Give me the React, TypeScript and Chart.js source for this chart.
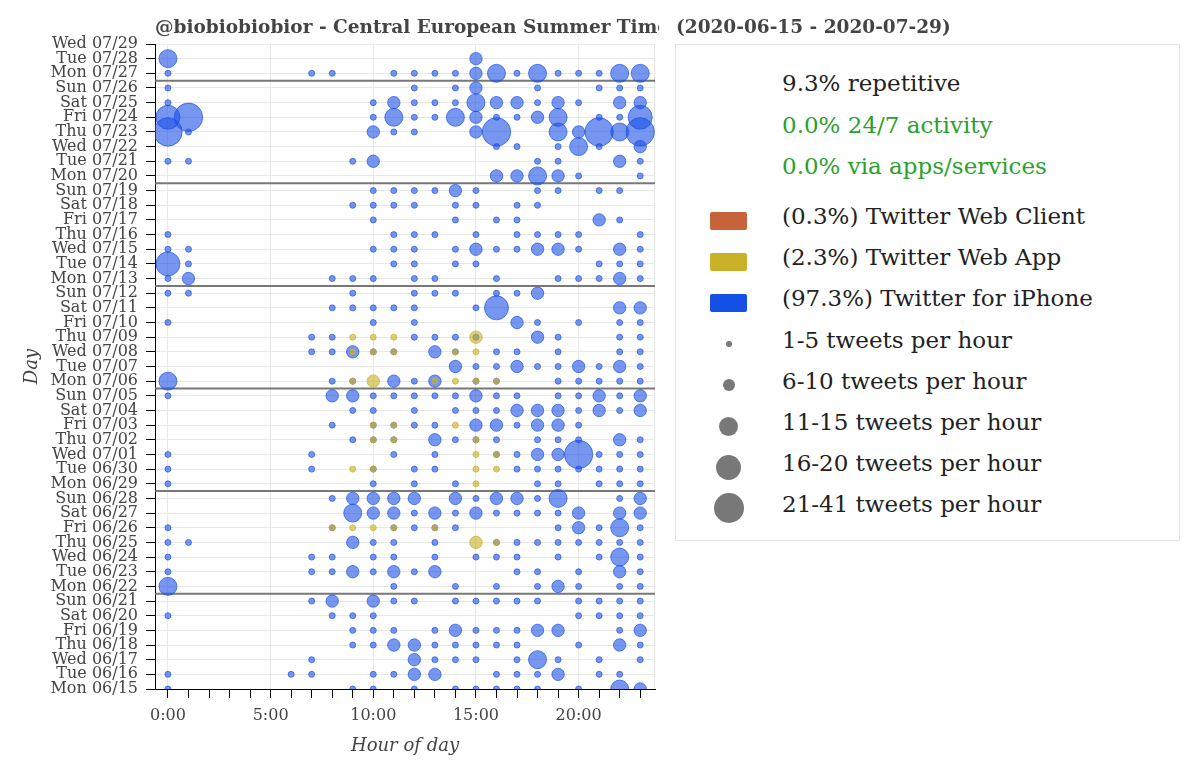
import React, { useEffect, useRef } from 'react';
import { Chart, registerables } from 'chart.js';
Chart.register(...registerables);

// ---- data ----
const days = [
  'Mon 06/15', 'Tue 06/16', 'Wed 06/17', 'Thu 06/18', 'Fri 06/19', 'Sat 06/20', 'Sun 06/21',
  'Mon 06/22', 'Tue 06/23', 'Wed 06/24', 'Thu 06/25', 'Fri 06/26', 'Sat 06/27', 'Sun 06/28',
  'Mon 06/29', 'Tue 06/30', 'Wed 07/01', 'Thu 07/02', 'Fri 07/03', 'Sat 07/04', 'Sun 07/05',
  'Mon 07/06', 'Tue 07/07', 'Wed 07/08', 'Thu 07/09', 'Fri 07/10', 'Sat 07/11', 'Sun 07/12',
  'Mon 07/13', 'Tue 07/14', 'Wed 07/15', 'Thu 07/16', 'Fri 07/17', 'Sat 07/18', 'Sun 07/19',
  'Mon 07/20', 'Tue 07/21', 'Wed 07/22', 'Thu 07/23', 'Fri 07/24', 'Sat 07/25', 'Sun 07/26',
  'Mon 07/27', 'Tue 07/28', 'Wed 07/29',
];

const hourLabels = ['0:00', '5:00', '10:00', '15:00', '20:00'];

// per day (same order as days), per hour 0..23: tweet-count class
// 0 none, 1 = 1-5, 2 = 6-10, 3 = 11-15, 4 = 16-20, 5 = 21-41
const iphoneRows = [
  '100000 000110 101111 101032',
  '100000 110011 220011 120110',
  '000000 010000 211101 310101',
  '000000 000112 211111 001021',
  '000000 000111 012111 220012',
  '100000 001110 000000 001111',
  '000000 012021 101111 101111',
  '300000 000001 001010 121011',
  '100000 011212 120001 101021',
  '100000 011011 010111 010131',
  '110000 000211 010011 111111',
  '100000 001001 111000 012131',
  '000000 000322 121211 112022',
  '000000 001222 202122 130012',
  '100000 000010 101000 110111',
  '100000 010010 110001 111111',
  '100000 010001 010011 225111',
  '000000 000111 021110 111021',
  '000000 001011 110221 221000',
  '000000 000110 101112 221212',
  '100000 002211 111211 011212',
  '300000 001102 120110 011111',
  '000000 000000 002112 112121',
  '000000 011211 021011 010011',
  '000000 011000 111100 210011',
  '100000 000010 100002 101011',
  '000000 001111 100140 000022',
  '110000 000100 111011 200000',
  '120000 001110 110010 011121',
  '410000 000001 101100 000111',
  '110000 000011 101211 221021',
  '100000 000001 110101 111001',
  '000000 000010 001011 000210',
  '000000 000111 101101 100000',
  '000000 000011 112100 110110',
  '000000 000000 000022 321001',
  '110000 000120 000000 110021',
  '000000 000000 000011 013102',
  '510000 000021 100250 032535',
  '450000 000013 113211 230114',
  '100000 000012 111322 121022',
  '100000 000000 101200 100111',
  '100000 011001 111231 311133',
  '300000 000000 000200 000000',
  '000000 000000 000000 000000',
];

const webAppRows = [
  '000000 000000 000000 000000',
  '000000 000000 000000 000000',
  '000000 000000 000000 000000',
  '000000 000000 000000 000000',
  '000000 000000 000000 000000',
  '000000 000000 000000 000000',
  '000000 000000 000000 000000',
  '000000 000000 000000 000000',
  '000000 000000 000000 000000',
  '000000 000000 000000 000000',
  '000000 000000 000210 000000',
  '000000 001111 010000 000000',
  '000000 000000 000000 000000',
  '000000 000000 000000 000000',
  '000000 000000 000100 000000',
  '000000 000110 000110 000000',
  '000000 000000 000110 000000',
  '000000 000011 000100 000000',
  '000000 000011 001000 000000',
  '000000 000000 000000 000000',
  '000000 000000 000000 000000',
  '000000 000120 011110 000000',
  '000000 000000 000000 000000',
  '000000 000111 001100 000000',
  '000000 000111 000200 000000',
  '000000 000000 000000 000000',
  '000000 000000 000000 000000',
  '000000 000000 000000 000000',
  '000000 000000 000000 000000',
  '000000 000000 000000 000000',
  '000000 000000 000000 000000',
  '000000 000000 000000 000000',
  '000000 000000 000000 000000',
  '000000 000000 000000 000000',
  '000000 000000 000000 000000',
  '000000 000000 000000 000000',
  '000000 000000 000000 000000',
  '000000 000000 000000 000000',
  '000000 000000 000000 000000',
  '000000 000000 000000 000000',
  '000000 000000 000000 000000',
  '000000 000000 000000 000000',
  '000000 000000 000000 000000',
  '000000 000000 000000 000000',
  '000000 000000 000000 000000',
];

// week boundaries (between Sunday and Monday)
const weekBreaks = [6.5, 13.5, 20.5, 27.5, 34.5, 41.5];

const statLabels = ['9.3% repetitive', '0.0% 24/7 activity', '0.0% via apps/services'];
const sourceLabels = ['(0.3%) Twitter Web Client', '(2.3%) Twitter Web App', '(97.3%) Twitter for iPhone'];
const sizeLabels = [
  '1-5 tweets per hour',
  '6-10 tweets per hour',
  '11-15 tweets per hour',
  '16-20 tweets per hour',
  '21-41 tweets per hour',
];

// ---- styles ----
const FONT = '"DejaVu Serif", serif';
const RADIUS = [0, 3.0, 6.2, 9.0, 12.0, 14.2];
const LEGEND_DOT = [6, 12, 19, 25, 30];
const SOURCE_COLORS = ['#c8623a', '#c9b22a', '#1450e6'];
const X_MIN = -0.63;
const X_MAX = 23.72;

function toPoints(rows: string[]) {
  const pts: { x: number; y: number; r: number }[] = [];
  rows.forEach((row, d) => {
    row.replace(/\s/g, '').split('').forEach((ch, h) => {
      const c = Number(ch);
      if (c > 0) pts.push({ x: h, y: d, r: RADIUS[c] });
    });
  });
  return pts;
}

const framePlugin = {
  id: 'frame',
  beforeDraw(chart: any) {
    const { left, top, right, bottom } = chart.chartArea;
    const ctx = chart.ctx;
    ctx.save();
    ctx.strokeStyle = '#e5e5e5';
    ctx.lineWidth = 1;
    ctx.strokeRect(left + 0.5, top + 0.5, right - left - 1, bottom - top);
    ctx.restore();
  },
};

export default function App() {
  const ref = useRef<HTMLCanvasElement>(null);

  useEffect(() => {
    if (!ref.current) return;
    Chart.defaults.font.family = FONT;
    const chart = new Chart(ref.current, {
      type: 'bubble',
      data: {
        datasets: [
          {
            label: 'Twitter Web App',
            data: toPoints(webAppRows),
            backgroundColor: 'rgba(201,178,42,0.62)',
            borderColor: 'rgba(201,178,42,0.75)',
            borderWidth: 1,
            order: 0,
            clip: 0,
          } as any,
          {
            label: 'Twitter for iPhone',
            data: toPoints(iphoneRows),
            backgroundColor: 'rgba(26,80,230,0.6)',
            borderColor: 'rgba(26,80,230,0.68)',
            borderWidth: 1,
            order: 1,
            clip: 0,
          } as any,
          ...weekBreaks.map((b) => ({
            type: 'line',
            label: 'week',
            data: [
              { x: X_MIN, y: b },
              { x: X_MAX, y: b },
            ],
            borderColor: 'rgba(105,105,105,0.9)',
            borderWidth: 2,
            pointRadius: 0,
            order: 2,
            clip: 0,
          })) as any,
        ],
      },
      options: {
        responsive: false,
        animation: false,
        events: [],
        layout: { autoPadding: false, padding: { top: 44, right: 10, left: 0, bottom: 0 } },
        plugins: {
          legend: { display: false },
          tooltip: { enabled: false },
          title: { display: false },
        },
        scales: {
          x: {
            type: 'linear',
            min: X_MIN,
            max: X_MAX,
            ticks: {
              stepSize: 1,
              autoSkip: false,
              includeBounds: false,
              maxRotation: 0,
              color: '#444',
              font: { size: 16, family: FONT },
              padding: 8,
              callback: (v: any) => (Number(v) % 5 === 0 ? hourLabels[Number(v) / 5] : ''),
            },
            grid: {
              color: (ctx: any) =>
                ctx.tick && ctx.tick.value % 5 === 0 ? '#e8e8e8' : 'rgba(0,0,0,0)',
              tickColor: '#000',
              tickLength: 9,
              lineWidth: 1,
            },
            border: { color: '#000', width: 1 },
            title: {
              display: true,
              text: 'Hour of day',
              color: '#444',
              font: { size: 18, style: 'italic', family: FONT },
              padding: { top: 0, bottom: 12 },
            },
            afterFit: (s: any) => {
              s.height = 80;
              s.paddingLeft = 0;
              s.paddingRight = 0;
            },
          } as any,
          y: {
            type: 'linear',
            min: 0,
            max: 44,
            ticks: {
              stepSize: 1,
              autoSkip: false,
              color: '#444',
              font: { size: 16, family: FONT },
              padding: 8,
              callback: (v: any) => days[Number(v)] ?? '',
            },
            grid: { color: '#e8e8e8', tickColor: '#000', tickLength: 9, lineWidth: 1 },
            border: { color: '#000', width: 1 },
            title: {
              display: true,
              text: 'Day',
              color: '#444',
              font: { size: 18, style: 'italic', family: FONT },
              padding: { top: 22, bottom: 0 },
            },
            afterFit: (s: any) => {
              s.width = 155;
              s.paddingTop = 0;
              s.paddingBottom = 0;
            },
          } as any,
        },
      },
      plugins: [framePlugin],
    } as any);
    return () => chart.destroy();
  }, []);

  const baselines = [91.7, 133.3, 174.3, 224, 265.3, 306.7, 348, 389, 430, 471, 512];
  const textTops = baselines.map((b) => b - 21.4);
  const rowStyle = (top: number, color: string): React.CSSProperties => ({
    position: 'absolute',
    left: 782,
    top,
    fontFamily: FONT,
    fontSize: 23,
    lineHeight: '27px',
    color,
    whiteSpace: 'nowrap',
  });
  const titleStyle: React.CSSProperties = {
    position: 'absolute',
    top: 17,
    whiteSpace: 'nowrap',
    fontFamily: FONT,
    fontWeight: 'bold',
    fontSize: 18.5,
    lineHeight: '20px',
    color: '#444',
  };

  return (
    <div
      style={{
        position: 'absolute',
        left: 0,
        top: 0,
        width: 1200,
        height: 769,
        background: '#fff',
        overflow: 'hidden',
      }}
    >
      <canvas
        ref={ref}
        width={665}
        height={769}
        style={{ position: 'absolute', left: 0, top: 0, width: 665, height: 769 }}
      />
      <div style={{ ...titleStyle, left: 155, width: 504, overflow: 'hidden' }}>
        @biobiobiobior - Central European Summer Time
      </div>
      <div style={{ ...titleStyle, left: 676 }}>(2020-06-15 - 2020-07-29)</div>
      <div
        style={{
          position: 'absolute',
          left: 675,
          top: 44,
          width: 505,
          height: 497,
          border: '1px solid #e5e5e5',
          boxSizing: 'border-box',
        }}
      />
      {statLabels.map((t, i) => (
        <div key={'s' + i} style={rowStyle(textTops[i], i === 0 ? '#222' : '#2ca02c')}>
          {t}
        </div>
      ))}
      {sourceLabels.map((t, i) => {
        const base = baselines[3 + i];
        return (
          <React.Fragment key={'c' + i}>
            <div
              style={{
                position: 'absolute',
                left: 710,
                top: base - 3.5 - 9,
                width: 37,
                height: 18,
                background: SOURCE_COLORS[i],
                borderRadius: 2,
              }}
            />
            <div style={rowStyle(textTops[3 + i], '#222')}>{t}</div>
          </React.Fragment>
        );
      })}
      {sizeLabels.map((t, i) => {
        const base = baselines[6 + i];
        const d = LEGEND_DOT[i];
        return (
          <React.Fragment key={'z' + i}>
            <div
              style={{
                position: 'absolute',
                left: 728.5 - d / 2,
                top: base - 4 - d / 2,
                width: d,
                height: d,
                borderRadius: '50%',
                background: '#787878',
              }}
            />
            <div style={rowStyle(textTops[6 + i], '#222')}>{t}</div>
          </React.Fragment>
        );
      })}
    </div>
  );
}
